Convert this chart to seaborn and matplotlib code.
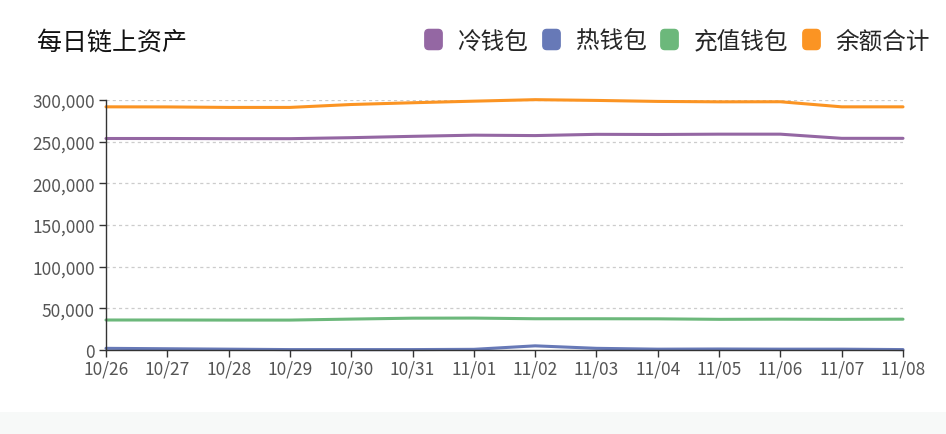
import pandas as pd
import seaborn as sns
import matplotlib.pyplot as plt
from matplotlib.lines import Line2D
from matplotlib.patches import Rectangle, FancyBboxPatch

# data
dates = ['10/26', '10/27', '10/28', '10/29', '10/30', '10/31', '11/01',
         '11/02', '11/03', '11/04', '11/05', '11/06', '11/07', '11/08']
cold = [253800, 253800, 253600, 253600, 254800, 256400, 257800,
        257300, 258800, 258600, 259000, 259000, 254000, 254000]
hot = [2000, 1500, 1000, 500, 500, 500, 800,
       5000, 2000, 1000, 1200, 1000, 1000, 500]
deposit = [36000, 36000, 35900, 35900, 37100, 38200, 38300,
           37500, 37500, 37400, 36800, 37000, 36800, 37000]
total = [291800, 291700, 291100, 291100, 294600, 296700, 298600,
         300400, 299500, 298300, 297800, 297900, 291800, 291800]

series_names = ['冷钱包', '热钱包', '充值钱包', '余额合计']
colors = ['#9467a3', '#6779b7', '#6cb87b', '#fb9423']

sns.set_theme(style='white')
plt.rcParams['font.family'] = ['Noto Sans CJK SC', 'DejaVu Sans']

df = pd.DataFrame({'date': dates, '冷钱包': cold, '热钱包': hot,
                   '充值钱包': deposit, '余额合计': total})
df['x'] = range(len(dates))
df_long = df.melt(id_vars=['date', 'x'], value_vars=series_names,
                  var_name='series', value_name='value')

fig = plt.figure(figsize=(9.46, 4.35), dpi=100)
fig.patch.set_facecolor('white')
# pale band at the bottom
fig.patches.append(Rectangle((0, 0), 1, 22 / 435, transform=fig.transFigure,
                             facecolor='#f7f9f8', edgecolor='none', zorder=0))

ax = fig.add_axes([106 / 946, 84 / 435, 797 / 946, 250 / 435])
sns.lineplot(data=df_long, x='x', y='value', hue='series', hue_order=series_names,
             palette=dict(zip(series_names, colors)), linewidth=2.2, ax=ax,
             legend=False, clip_on=False)

ax.set_xlim(0, len(dates) - 1)
ax.set_ylim(0, 300000)
ax.set_xticks(range(len(dates)))
ax.set_xticklabels(dates)
ax.set_yticks(range(0, 300001, 50000))
ax.set_yticklabels([f'{v:,}' for v in range(0, 300001, 50000)])
ax.set_xlabel('')
ax.set_ylabel('')

for v in range(50000, 300001, 50000):
    ax.axhline(v, color='#cccccc', linestyle=(0, (2.5, 2.5)), linewidth=0.9, zorder=0)

for s in ['top', 'right']:
    ax.spines[s].set_visible(False)
for s in ['left', 'bottom']:
    ax.spines[s].set_color('#333333')
    ax.spines[s].set_linewidth(1)

ax.tick_params(axis='both', which='major', labelsize=12.5, labelcolor='#555555',
               color='#333333', length=5, width=1)
ax.tick_params(axis='x', direction='out', bottom=True, pad=2)
ax.tick_params(axis='y', direction='out', left=True, pad=3)

fig.text(37 / 946, 1 - 43 / 435, '每日链上资产', fontsize=18, color='#111111',
         va='center', ha='left')

# rounded rectangle legend marker
box = FancyBboxPatch((-0.43, -0.5), 0.86, 1.0,
                     boxstyle='round,pad=0,rounding_size=0.2')
box_marker = box.get_path()
handles = [Line2D([0], [0], marker=box_marker, linestyle='none', markersize=14.5,
                  markerfacecolor=c, markeredgecolor=c) for c in colors]
fig.legend(handles, series_names, loc='center right', ncol=4,
           bbox_to_anchor=(930 / 946, 1 - 42 / 435), frameon=False,
           fontsize=17, handletextpad=0.6, columnspacing=0.5,
           handlelength=0.9, borderaxespad=0, borderpad=0)

fig.savefig('out.png', dpi=100)
